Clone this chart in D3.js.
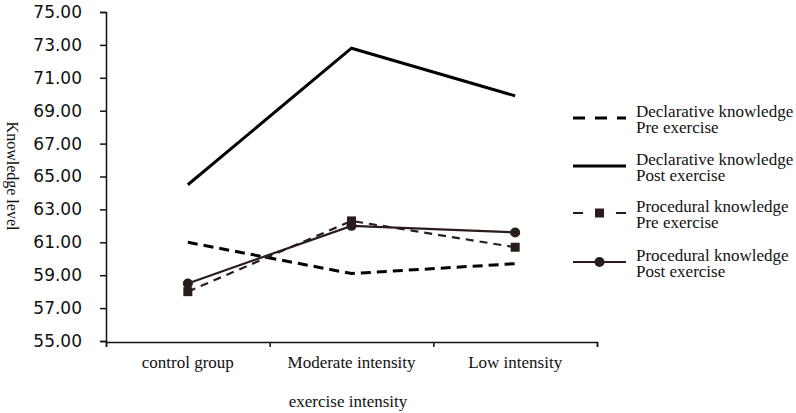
<!DOCTYPE html>
<html>
<head>
<meta charset="utf-8">
<script src="https://cdn.jsdelivr.net/npm/d3@7"></script>
<style>
  body { margin: 0; background: #fff; }
  svg { display: block; }
</style>
</head>
<body>
<div id="chart"></div>
<script>
// categories on the x axis
const groups = ['control group', 'Moderate intensity', 'Low intensity'];

// series values
const declarativePre = [61.0, 59.1, 59.7];
const declarativePost = [64.5, 72.8, 69.9];
const proceduralPre = [58.0, 62.3, 60.7];
const proceduralPost = [58.5, 62.0, 61.6];

const yTicks = [55, 57, 59, 61, 63, 65, 67, 69, 71, 73, 75];

const seriesNames = [
  ['Declarative knowledge', 'Pre exercise'],
  ['Declarative knowledge', 'Post exercise'],
  ['Procedural knowledge', 'Pre exercise'],
  ['Procedural knowledge', 'Post exercise'],
];

const width = 796;
const height = 413;
const plot = { left: 106, right: 597, top: 12, bottom: 341 };
const serif = "'Liberation Serif', 'Times New Roman', serif";
const sans = "'DejaVu Sans', Verdana, sans-serif";

const series = [
  { values: declarativePre, color: '#000', width: 3, dash: '10,6', marker: null },
  { values: declarativePost, color: '#000', width: 3, dash: null, marker: null },
  { values: proceduralPre, color: '#2b1c1c', width: 2.2, dash: '8,6', marker: 'square' },
  { values: proceduralPost, color: '#2b1c1c', width: 2.2, dash: null, marker: 'circle' },
];

const svg = d3.select('#chart')
  .append('svg')
  .attr('width', width)
  .attr('height', height);

const xScale = d3.scaleBand()
  .domain(groups)
  .range([plot.left, plot.right])
  .padding(0);

const yScale = d3.scaleLinear()
  .domain([55, 75])
  .range([plot.bottom, plot.top]);

// y axis
const yAxis = svg.append('g')
  .attr('transform', `translate(${plot.left},0)`)
  .call(d3.axisLeft(yScale).tickValues(yTicks).tickFormat(d3.format('.2f')).tickSize(6).tickPadding(18));
yAxis.attr('font-family', null).attr('font-size', null);
yAxis.selectAll('path, line').attr('stroke', '#111').attr('stroke-width', 1.5);
yAxis.selectAll('text')
  .style('font-family', sans)
  .style('font-size', '17px')
  .attr('fill', '#111');

// x axis: ticks at band edges
const edgeScale = d3.scaleLinear().domain([0, groups.length]).range([plot.left, plot.right]);
const xAxis = svg.append('g')
  .attr('transform', `translate(0,${plot.bottom + 1})`)
  .call(d3.axisBottom(edgeScale).tickValues(d3.range(groups.length + 1)).tickFormat('').tickSize(5).tickSizeOuter(5));
xAxis.selectAll('path, line').attr('stroke', '#111').attr('stroke-width', 1.5);

svg.append('g')
  .selectAll('text')
  .data(groups)
  .join('text')
  .style('font-family', serif)
  .style('font-size', '17px')
  .attr('fill', '#111')
  .attr('x', (d) => xScale(d) + xScale.bandwidth() / 2)
  .attr('y', 368)
  .attr('text-anchor', 'middle')
  .text((d) => d);

svg.append('text')
  .style('font-family', serif)
  .style('font-size', '17px')
  .attr('fill', '#111')
  .attr('x', 348)
  .attr('y', 407)
  .attr('text-anchor', 'middle')
  .text('exercise intensity');

svg.append('text')
  .style('font-family', serif)
  .style('font-size', '16px')
  .attr('fill', '#111')
  .attr('transform', 'translate(7,176) rotate(90)')
  .attr('text-anchor', 'middle')
  .text('Knowledge level');

// lines
const line = d3.line()
  .x((d, i) => xScale(groups[i]) + xScale.bandwidth() / 2)
  .y((d) => yScale(d));

const lines = svg.append('g');
series.forEach((s) => {
  lines.append('path')
    .datum(s.values)
    .attr('d', line)
    .attr('fill', 'none')
    .attr('stroke', s.color)
    .attr('stroke-width', s.width)
    .attr('stroke-dasharray', s.dash);
});

function drawMarker(g, type, x, y, color) {
  if (type === 'square') {
    g.append('rect')
      .attr('x', x - 4.5).attr('y', y - 4.5)
      .attr('width', 9).attr('height', 9)
      .attr('fill', color);
  } else if (type === 'circle') {
    g.append('circle')
      .attr('cx', x).attr('cy', y).attr('r', 5)
      .attr('fill', color);
  }
}

const markers = svg.append('g');
series.forEach((s) => {
  if (!s.marker) return;
  s.values.forEach((v, i) => {
    drawMarker(markers, s.marker, xScale(groups[i]) + xScale.bandwidth() / 2, yScale(v), s.color);
  });
});

// legend: two-line labels
const legendRows = [118, 166, 213, 262];
const legendDash = ['12,10', null, '10,33', null];
const legend = svg.append('g');
series.forEach((s, i) => {
  const y = legendRows[i];
  legend.append('line')
    .attr('x1', 573).attr('x2', 626)
    .attr('y1', y).attr('y2', y)
    .attr('stroke', s.color)
    .attr('stroke-width', s.width)
    .attr('stroke-dasharray', legendDash[i]);
  drawMarker(legend, s.marker, 599.5, y, s.color);
  legend.append('text')
    .style('font-family', serif)
    .style('font-size', '17px')
    .attr('fill', '#111')
    .attr('x', 636)
    .attr('y', y - 1)
    .text(seriesNames[i][0]);
  legend.append('text')
    .style('font-family', serif)
    .style('font-size', '17px')
    .attr('fill', '#111')
    .attr('x', 636)
    .attr('y', y + 15)
    .text(seriesNames[i][1]);
});
</script>
</body>
</html>
